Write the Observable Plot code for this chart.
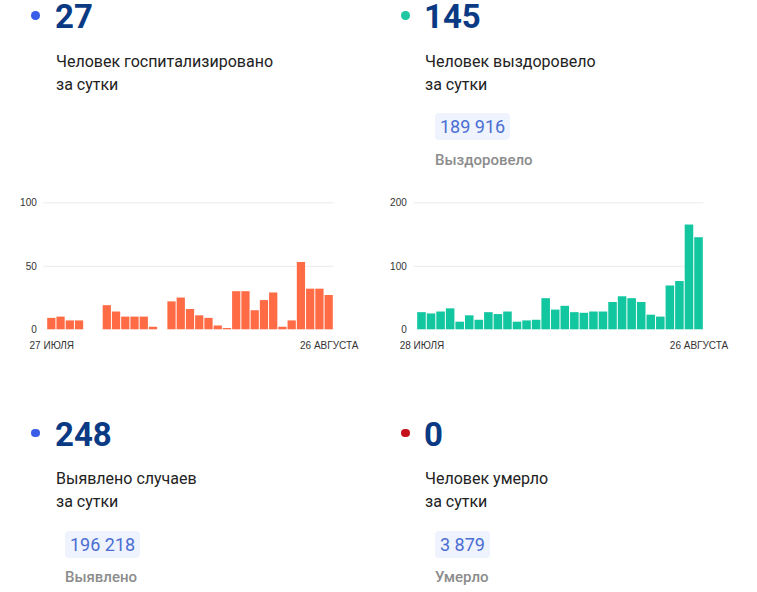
<!DOCTYPE html>
<html>
<head>
<meta charset="utf-8">
<script src="https://cdn.jsdelivr.net/npm/d3@7"></script>
<script src="https://cdn.jsdelivr.net/npm/@observablehq/plot@0.6"></script>
<style>
  html, body { margin: 0; padding: 0; background: #fff; }
  body { width: 757px; height: 592px; position: relative; overflow: hidden; font-family: Roboto, "Noto Sans", sans-serif; }
  .card { position: absolute; width: 340px; height: 175px; }
  .dot { position: absolute; width: 8.6px; height: 8.6px; border-radius: 50%; top: 11.2px; }
  .num { position: absolute; top: 0; font-size: 33px; line-height: 33px; font-weight: 700; color: #0b3a84; letter-spacing: 0; }
  .desc { position: absolute; top: 49.5px; font-size: 16px; line-height: 23px; color: #222; }
  .box { position: absolute; top: 113px; height: 27px; line-height: 27px; font-size: 18px; color: #4b6ed2; background: #eef3fd; border-radius: 4px; padding: 0 5px; }
  .lbl { position: absolute; top: 150.9px; font-size: 15px; line-height: 18px; font-weight: 500; color: #8c8c8c; }
  .chart { position: absolute; top: 190px; }
</style>
</head>
<body>
<div id="cards"></div>
<div id="c1" class="chart" style="left:0px"></div>
<div id="c2" class="chart" style="left:370px"></div>
<script>
// ---- data ----
const cardValues = ["27", "145", "248", "0"];
const cardDescs = [["Человек госпитализировано", "за сутки"], ["Человек выздоровело", "за сутки"], ["Выявлено случаев", "за сутки"], ["Человек умерло", "за сутки"]];
const cardTotals = [null, "189 916", "196 218", "3 879"];
const cardTotalLabels = [null, "Выздоровело", "Выявлено", "Умерло"];
const cardDotColors = ["#3b5ee8", "#1fc6a2", "#3b5ee8", "#c5111c"];

const hospStart = "2020-07-27";
const hospValues = [9, 10, 7, 7, 0, 0, 19, 14, 10, 10, 10, 2, 0, 22, 25, 16, 11, 9, 3, 1, 30, 30, 15, 23, 29, 2, 7, 53, 32, 32, 27];
const hospTickLabels = ["27 ИЮЛЯ", "26 АВГУСТА"];
const hospYTicks = [0, 50, 100];

const recStart = "2020-07-28";
const recValues = [27, 25, 28, 33, 12, 22, 15, 27, 24, 28, 12, 14, 15, 49, 31, 37, 27, 26, 28, 28, 43, 52, 49, 43, 23, 20, 69, 76, 165, 145];
const recTickLabels = ["28 ИЮЛЯ", "26 АВГУСТА"];
const recYTicks = [0, 100, 200];

// ---- cards ----
const cardPos = [[30, 0], [400, 0], [30, 417.5], [400, 417.5]];
const cardsEl = document.getElementById("cards");
cardValues.forEach((v, i) => {
  const c = document.createElement("div");
  c.className = "card";
  c.style.left = cardPos[i][0] + "px";
  c.style.top = cardPos[i][1] + "px";
  let html = `<div class="dot" style="left:1.2px;background:${cardDotColors[i]}"></div>`;
  html += `<div class="num" style="left:${i % 2 ? 24 : 25}px">${v}</div>`;
  html += `<div class="desc" style="left:${i % 2 ? 25 : 26}px">${cardDescs[i].join("<br>")}</div>`;
  if (cardTotals[i]) {
    const bx = 35;
    html += `<div class="box" style="left:${bx}px">${cardTotals[i]}</div>`;
    html += `<div class="lbl" style="left:${bx}px">${cardTotalLabels[i]}</div>`;
  }
  c.innerHTML = html;
  cardsEl.appendChild(c);
});

// ---- charts ----
function barChart(startStr, values, tickLabels, yTicks, color) {
  const start = new Date(startStr + "T00:00:00Z");
  const data = values.map((v, i) => ({date: d3.utcDay.offset(start, i), value: v}));
  const dates = data.map(d => d.date);
  const first = dates[0], last = dates[dates.length - 1];
  return Plot.plot({
    width: 370,
    height: 170,
    marginLeft: 43.3,
    marginRight: 36.7,
    marginTop: 12.3,
    marginBottom: 30.7,
    style: {fontFamily: "'Liberation Sans', Arial, sans-serif", fontSize: "10px", color: "#333", background: "transparent"},
    x: {type: "band", domain: dates, insetLeft: 3.4, padding: 0, round: false, label: null,
        ticks: [first, last], tickSize: 0, tickPadding: 12,
        tickFormat: d => (+d === +first ? tickLabels[0] : tickLabels[1])},
    y: {domain: [0, yTicks[yTicks.length - 1]], ticks: yTicks, tickSize: 0, tickPadding: 7, label: null},
    marks: [
      Plot.ruleY(yTicks.filter(t => t > 0), {stroke: "#ececec", strokeWidth: 1}),
      Plot.barY(data, {x: "date", y: "value", fill: color, insetLeft: 0.5, insetRight: 0.5})
    ]
  });
}

document.getElementById("c1").appendChild(barChart(hospStart, hospValues, hospTickLabels, hospYTicks, "#ff6b45"));
document.getElementById("c2").appendChild(barChart(recStart, recValues, recTickLabels, recYTicks, "#12c6a0"));
</script>
</body>
</html>
